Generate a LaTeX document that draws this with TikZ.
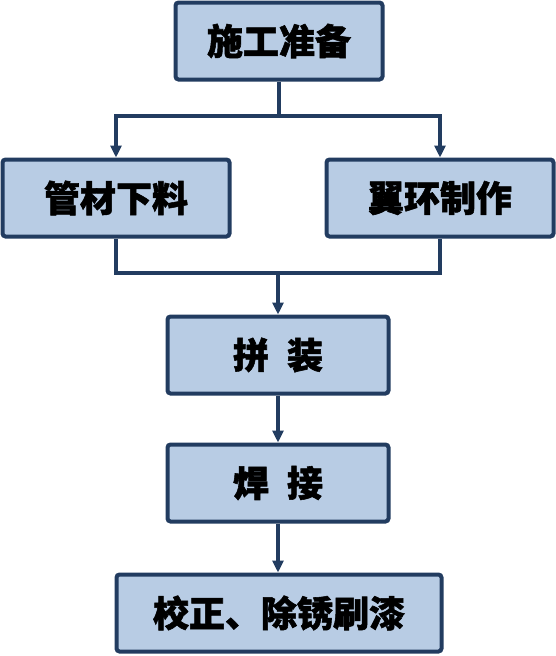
\documentclass[tikz,border=0pt]{standalone}
\usepackage{fontspec}
\newfontfamily\cjk[BoldFeatures={FakeBold=1.5}]{Noto Sans CJK SC}
\usetikzlibrary{arrows.meta}
\definecolor{boxfill}{RGB}{184,204,228}
\definecolor{boxline}{RGB}{34,60,96}

\begin{document}
\begin{tikzpicture}[
      x=1pt, y=-1pt,
      >={Triangle[length=12pt,width=11pt]},
      every node/.style={font=\cjk\bfseries\fontsize{36}{40}\selectfont},
      stepbox/.style={draw=boxline, line width=4pt, fill=boxfill, rounded corners=3pt, inner sep=0pt, minimum height=77pt},
      link/.style={draw=boxline, line width=4pt}
    ]
      \useasboundingbox (0,0) rectangle (556,656);

      \node[stepbox, minimum width=207pt] (prep) at (279,41) {施工准备};
      \node[stepbox, minimum width=227pt] (pipe) at (116,198) {管材下料};
      \node[stepbox, minimum width=227pt] (ring) at (440,198) {翼环制作};
      \node[stepbox, minimum width=221pt] (assy) at (278,355) {拼\hspace{0.5em}装};
      \node[stepbox, minimum width=221pt] (weld) at (278,483) {焊\hspace{0.5em}接};
      \node[stepbox, minimum width=325pt] (finish) at (279,613) {校正、除锈刷漆};

      \coordinate (split) at (279,116);
      \coordinate (merge) at (278,273);

      \draw[link] (prep.south) -- (split);
      \draw[link, ->] (split) -| (pipe.north);
      \draw[link, ->] (split) -| (ring.north);
      \draw[link] (pipe.south) |- (merge) -| (ring.south);
      \draw[link, ->] (merge) -- (assy.north);
      \draw[link, ->] (assy.south) -- (weld.north);
      \draw[link, ->] (weld.south) -- (weld.south |- finish.north);
    \end{tikzpicture}
\end{document}
